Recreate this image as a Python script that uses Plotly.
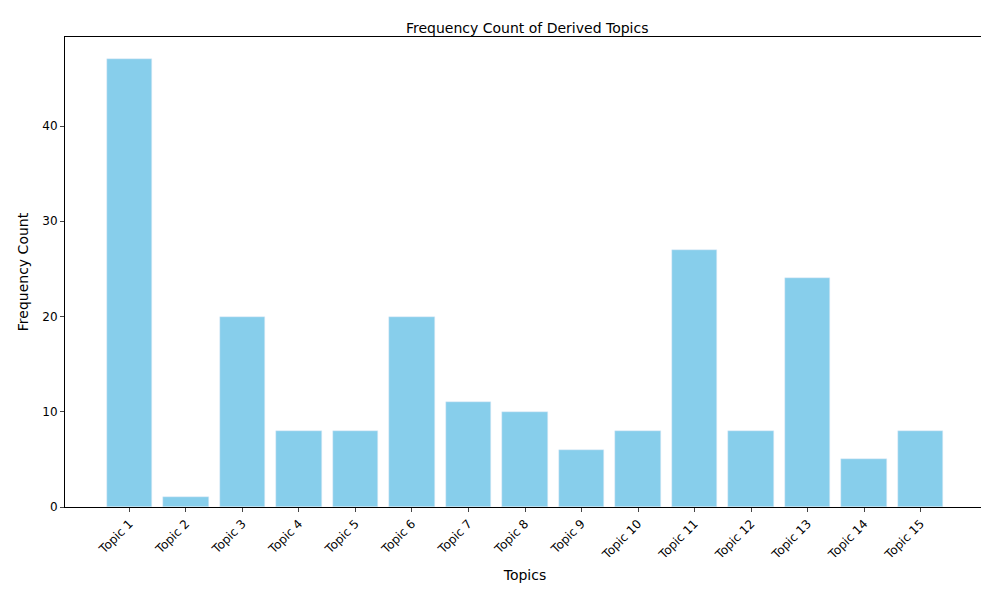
import plotly.graph_objects as go

topics = [f"Topic {i}" for i in range(1, 16)]
counts = [47, 1, 20, 8, 8, 20, 11, 10, 6, 8, 27, 8, 24, 5, 8]

fig = go.Figure()
fig.add_trace(go.Bar(x=list(range(15)), y=counts, marker_color="#87CEEB", width=0.8))

fig.update_layout(
    title=dict(text="Frequency Count of Derived Topics", x=0.525, y=0.975, font=dict(size=14, color="black")),
    width=989, height=589,
    plot_bgcolor="white", paper_bgcolor="white",
    font=dict(family="DejaVu Sans", size=12, color="black"),
    margin=dict(l=57, r=12, t=29, b=90),
    showlegend=False,
    bargap=0,
)
fig.update_xaxes(
    tickmode="array", tickvals=list(range(15)), ticktext=topics, tickangle=-45,
    range=[-1.14, 15.14], showline=True, mirror=True, linecolor="black",
    ticks="outside", ticklen=4, showgrid=False, zeroline=False,
    title=dict(text="Topics", standoff=8),
)
fig.update_yaxes(
    range=[0, 49.35], tickvals=[0, 10, 20, 30, 40], showline=True, mirror=True, linecolor="black",
    ticks="outside", ticklen=4, showgrid=False, zeroline=False,
    title=dict(text="Frequency Count", standoff=10),
)
fig.write_html("out.html")
